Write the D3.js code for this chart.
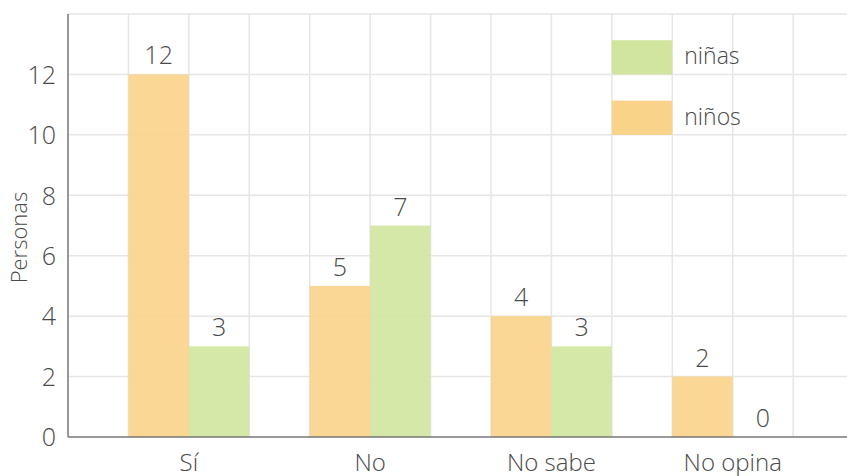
<!DOCTYPE html>
<html>
<head>
<meta charset="utf-8">
<script src="https://cdn.jsdelivr.net/npm/d3@7"></script>
<style>
  body { margin: 0; background: #fff; }
  svg { display: block; font-family: "Open Sans", "Noto Sans", sans-serif; font-weight: 300; }
</style>
</head>
<body>
<div class="chart"></div>
<script>
// data
var categories = ["Sí", "No", "No sabe", "No opina"];
var ninos = [12, 5, 4, 2];
var ninas = [3, 7, 3, 0];
var yTicks = [0, 2, 4, 6, 8, 10, 12];

var svgWidth = 847, svgHeight = 476;
var margin = { top: 14, left: 68, bottom: 39 };
var height = svgHeight - margin.top - margin.bottom;

var svg = d3.select(".chart").append("svg")
  .attr("width", svgWidth)
  .attr("height", svgHeight);

var y = d3.scaleLinear().domain([0, 14]).range([margin.top + height, margin.top]);
var cell = y(0) - y(2);

// category bands: each band = 2 bars, gap of 1 cell
var x0 = d3.scaleBand()
  .domain(categories)
  .range([margin.left, margin.left + cell * 13])
  .paddingInner(1 / 3)
  .paddingOuter(1 / 3);

var x1 = d3.scaleBand().domain(["ninos", "ninas"]).range([0, x0.bandwidth()]);

var colors = { ninos: "#f9d38a", ninas: "#d2e59f" };

// grid
var gx = d3.range(margin.left + cell, svgWidth, cell);
svg.append("g").selectAll("line").data(gx).enter().append("line")
  .attr("x1", d => d).attr("x2", d => d)
  .attr("y1", y(14)).attr("y2", y(0))
  .attr("stroke", "#e6e6e6").attr("stroke-width", 1.5);

svg.append("g").selectAll("line").data(d3.range(2, 15, 2)).enter().append("line")
  .attr("x1", margin.left).attr("x2", svgWidth)
  .attr("y1", d => y(d)).attr("y2", d => y(d))
  .attr("stroke", "#e6e6e6").attr("stroke-width", 1.5);

// bars
var series = [
  { key: "ninos", values: ninos },
  { key: "ninas", values: ninas }
];

series.forEach(function(s) {
  svg.append("g").selectAll("rect").data(s.values).enter().append("rect")
    .attr("x", (d, i) => x0(categories[i]) + x1(s.key))
    .attr("y", d => y(d))
    .attr("width", x1.bandwidth())
    .attr("height", d => y(0) - y(d))
    .attr("fill", colors[s.key])
    .attr("fill-opacity", 0.9);

  svg.append("g").selectAll("text").data(s.values).enter().append("text")
    .attr("x", (d, i) => x0(categories[i]) + x1(s.key) + x1.bandwidth() / 2)
    .attr("y", d => y(d) - 10)
    .attr("text-anchor", "middle")
    .attr("font-size", "25px")
    .attr("fill", "#4a4a4a")
    .text(d => d);
});

// axes
var yAxis = d3.axisLeft(y).tickValues(yTicks).tickSize(0).tickPadding(12);
var gy = svg.append("g")
  .attr("transform", `translate(${margin.left},0)`)
  .call(yAxis)
  .attr("font-family", null).attr("font-size", null);
gy.select(".domain").remove();
gy.selectAll("text")
  .attr("font-size", "25px")
  .attr("fill", "#4a4a4a").attr("dy", "0.35em");

var xAxis = d3.axisBottom(x0).tickSize(0).tickPadding(17);
var gxa = svg.append("g")
  .attr("transform", `translate(0,${y(0)})`)
  .call(xAxis)
  .attr("font-family", null).attr("font-size", null);
gxa.select(".domain").remove();
gxa.selectAll("text")
  .attr("font-size", "24px")
  .attr("fill", "#4a4a4a");

svg.append("line")
  .attr("x1", margin.left).attr("x2", margin.left)
  .attr("y1", y(14)).attr("y2", y(0))
  .attr("stroke", "#777").attr("stroke-width", 1.5);
svg.append("line")
  .attr("x1", margin.left).attr("x2", svgWidth)
  .attr("y1", y(0)).attr("y2", y(0))
  .attr("stroke", "#777").attr("stroke-width", 1.5);

svg.append("text")
  .attr("transform", `translate(27, ${y(6.6)}) rotate(270)`)
  .attr("text-anchor", "middle")
  .attr("font-size", "22px")
  .attr("fill", "#4a4a4a")
  .text("Personas");

// legend
var legend = [
  { key: "ninas", label: "niñas", top: 13 },
  { key: "ninos", label: "niños", top: 11 }
];
legend.forEach(function(l) {
  var lx = margin.left + cell * 9;
  svg.append("rect")
    .attr("x", lx)
    .attr("y", y(l.top) - 4)
    .attr("width", cell)
    .attr("height", y(l.top - 1) - y(l.top) + 4)
    .attr("fill", colors[l.key]);
  svg.append("text")
    .attr("x", lx + cell + 12)
    .attr("y", y(l.top) + 12)
    .attr("dy", "0.35em")
    .attr("font-size", "23px")
    .attr("fill", "#4a4a4a")
    .text(l.label);
});
</script>
</body>
</html>
